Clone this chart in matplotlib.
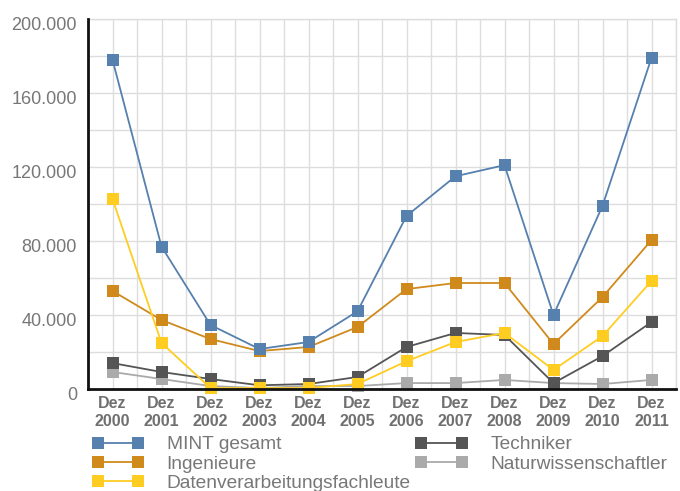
import numpy as np
import matplotlib.pyplot as plt
import matplotlib.transforms as mtransforms

plt.rcParams['font.family'] = ['Liberation Sans', 'DejaVu Sans']

jahre = ["2000", "2001", "2002", "2003", "2004", "2005",
         "2006", "2007", "2008", "2009", "2010", "2011"]
mint = [178000, 77000, 34600, 21600, 25400, 42000,
        93500, 115000, 121000, 40000, 99000, 179000]
ingenieure = [53000, 37300, 27000, 20500, 22700, 33500,
              54000, 57300, 57300, 24300, 49700, 80500]
datenverarbeitung = [102700, 24900, 500, 500, 500, 2700,
                     15000, 25400, 30300, 10300, 28600, 58400]
techniker = [14000, 9200, 5400, 2000, 2700, 6500,
             22700, 30300, 29200, 3200, 17800, 36200]
naturwiss = [9200, 5400, 1600, 500, 1600, 1600,
             3200, 3200, 4900, 3200, 2700, 4900]

serien = [
    ("MINT gesamt", mint, "#5680AE"),
    ("Ingenieure", ingenieure, "#D08A1C"),
    ("Datenverarbeitungsfachleute", datenverarbeitung, "#FFCD22"),
    ("Techniker", techniker, "#555555"),
    ("Naturwissenschaftler", naturwiss, "#AAAAAA"),
]
# Zeichenreihenfolge wie im Original
zorder = {"MINT gesamt": 6, "Ingenieure": 5, "Datenverarbeitungsfachleute": 7,
          "Techniker": 4, "Naturwissenschaftler": 3}

fig = plt.figure(figsize=(6.8, 4.91), dpi=100)
ax = fig.add_axes([88 / 680, 1 - 389 / 491, 588 / 680, 370 / 491])

x = np.arange(len(jahre))
for name, werte, farbe in serien:
    ax.plot(x, werte, color=farbe, lw=1.3, marker='s', ms=8,
            markeredgewidth=0, label=name, zorder=zorder[name], clip_on=False)

ax.set_xlim(-0.5, len(jahre) - 0.5)
ax.set_ylim(0, 200000)
ax.set_yticks(np.arange(0, 200001, 40000))
ax.set_yticks(np.arange(0, 200001, 20000), minor=True)
ax.set_yticklabels(["0" if v == 0 else "{:,}".format(v).replace(",", ".")
                    for v in range(0, 200001, 40000)])
ax.set_xticks(x)
ax.set_xticklabels(["Dez\n" + j for j in jahre], fontweight='bold',
                   linespacing=1.25)
ax.set_xticks(np.arange(-0.5, len(jahre), 1), minor=True)

ax.grid(True, which='both', color='#DDDDDD', lw=1)
ax.set_axisbelow(True)
ax.tick_params(axis='y', which='both', length=0, labelsize=13,
               labelcolor='#777777', pad=8)
ax.tick_params(axis='x', which='both', length=0, labelsize=11.5,
               labelcolor='#707070', pad=5)
# y-Beschriftungen leicht nach unten versetzt wie im Original
versatz = mtransforms.ScaledTranslation(0, -4 / 100, fig.dpi_scale_trans)
for lab in ax.get_yticklabels():
    lab.set_transform(lab.get_transform() + versatz)

for s in ['top', 'right']:
    ax.spines[s].set_color('#DDDDDD')
    ax.spines[s].set_linewidth(1)
for s in ['left', 'bottom']:
    ax.spines[s].set_color('#111111')
    ax.spines[s].set_linewidth(2)
    ax.spines[s].set_zorder(10)

fig.legend(loc='upper left', bbox_to_anchor=(92 / 680, 1 - 436 / 491),
           ncol=2, frameon=False, fontsize=13.8, labelcolor='#777777',
           numpoints=2, handlelength=2.7, handletextpad=1.2,
           labelspacing=0.1, columnspacing=0.25, borderaxespad=0,
           borderpad=0)

fig.savefig("out.png", dpi=100)
